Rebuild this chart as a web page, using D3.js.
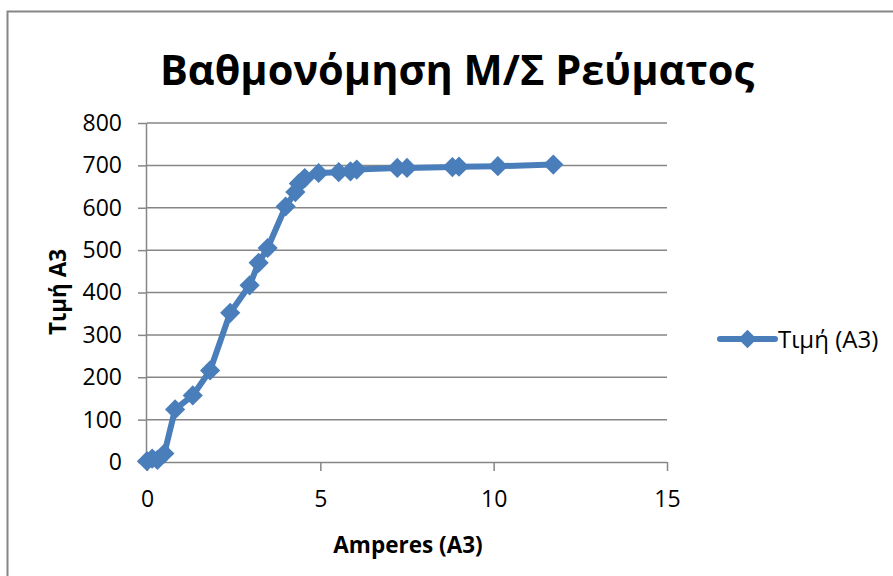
<!DOCTYPE html>
<html>
<head>
<meta charset="utf-8">
<script src="https://cdn.jsdelivr.net/npm/d3@7"></script>
<style>
  body { margin: 0; background: #fff; }
  svg { display: block; font-family: "Open Sans", "Noto Sans", sans-serif; }
</style>
</head>
<body>
<div id="chart"></div>
<script>
// values
var amperes = [0, 0.15, 0.3, 0.5, 0.81, 1.32, 1.82, 2.4, 2.96, 3.22, 3.48, 4.0, 4.28, 4.38, 4.55,
               4.95, 5.53, 5.87, 6.05, 7.22, 7.5, 8.81, 9.0, 10.12, 11.72];
var timi    = [2, 8, 5, 20, 124, 157, 216, 352, 417, 470, 505, 603, 637, 657, 670,
               682, 684, 686, 690, 694, 694, 696, 697, 698, 702];
var xTicks = [0, 5, 10, 15];
var yTicks = [0, 100, 200, 300, 400, 500, 600, 700, 800];
var title = "Βαθμονόμηση Μ/Σ Ρεύματος";
var xTitle = "Amperes (A3)";
var yTitle = "Τιμή A3";
var seriesName = "Τιμή (A3)";

var width = 893, height = 576;
var blue = "#4a7ebb", grey = "#868686";

var svg = d3.select("#chart").append("svg")
    .attr("width", width).attr("height", height);

// outer frame (clipped on the right/bottom like the screenshot)
svg.append("rect")
    .attr("x", 7.5).attr("y", 11.5)
    .attr("width", 900).attr("height", 600)
    .attr("fill", "#fff").attr("stroke", grey).attr("stroke-width", 2);

var x = d3.scaleLinear().domain([0, 15]).range([147, 667]);
var y = d3.scaleLinear().domain([0, 800]).range([462, 123]);

// gridlines
svg.append("g").selectAll("line")
    .data(yTicks.filter(function(d) { return d > 0; }))
    .enter().append("line")
    .attr("x1", x(0)).attr("x2", x(15))
    .attr("y1", function(d) { return y(d); })
    .attr("y2", function(d) { return y(d); })
    .attr("stroke", grey).attr("stroke-width", 1.5);

var yAxis = svg.append("g")
    .attr("transform", "translate(" + x(0) + ",0)")
    .call(d3.axisLeft(y).tickValues(yTicks).tickSize(9).tickPadding(16));

var xAxis = svg.append("g")
    .attr("transform", "translate(0," + y(0) + ")")
    .call(d3.axisBottom(x).tickValues(xTicks).tickSize(9).tickPadding(20));

[xAxis, yAxis].forEach(function(a) {
    a.select(".domain").attr("stroke", grey).attr("stroke-width", 1.5);
    a.selectAll(".tick line").attr("stroke", grey).attr("stroke-width", 1.5);
    a.selectAll(".tick text").attr("fill", "#000")
        .style("font-family", "'Open Sans', sans-serif").style("font-size", "23px");
});
// Excel style outside x ticks: horizontal domain with ticks below, no end caps above
xAxis.select(".domain").attr("d", "M" + x(0) + ",0.5H" + x(15));
yAxis.select(".domain").attr("d", "M-0.5," + y(800) + "V" + y(0));

// series
var pts = amperes.map(function(a, i) { return [a, timi[i]]; });

svg.append("path")
    .datum(pts)
    .attr("fill", "none")
    .attr("stroke", blue)
    .attr("stroke-width", 6)
    .attr("stroke-linejoin", "round")
    .attr("d", d3.line()
        .x(function(d) { return x(d[0]); })
        .y(function(d) { return y(d[1]); }));

var diamond = d3.symbol().type(d3.symbolDiamond2).size(260);

svg.append("g").selectAll("path")
    .data(pts)
    .enter().append("path")
    .attr("d", diamond)
    .attr("transform", function(d) { return "translate(" + x(d[0]) + "," + y(d[1]) + ")"; })
    .attr("fill", blue);

// title
svg.append("text")
    .attr("x", 457).attr("y", 85)
    .attr("text-anchor", "middle")
    .style("font-size", "41.5px").style("font-weight", "bold")
    .text(title);

// axis titles
svg.append("text")
    .attr("x", 408).attr("y", 553)
    .attr("text-anchor", "middle")
    .style("font-size", "22.5px").style("font-weight", "bold")
    .text(xTitle);

svg.append("text")
    .attr("transform", "translate(66,292) rotate(-90)")
    .attr("text-anchor", "middle")
    .style("font-size", "22.5px").style("font-weight", "bold")
    .text(yTitle);

// legend
var legend = svg.append("g").attr("transform", "translate(720,339)");
legend.append("line")
    .attr("x1", 0).attr("x2", 55)
    .attr("stroke", blue).attr("stroke-width", 6).attr("stroke-linecap", "round");
legend.append("path")
    .attr("d", d3.symbol().type(d3.symbolDiamond2).size(220))
    .attr("transform", "translate(27.5,0)")
    .attr("fill", blue);
legend.append("text")
    .attr("x", 58).attr("y", 9)
    .style("font-size", "24px")
    .text(seriesName);
</script>
</body>
</html>
